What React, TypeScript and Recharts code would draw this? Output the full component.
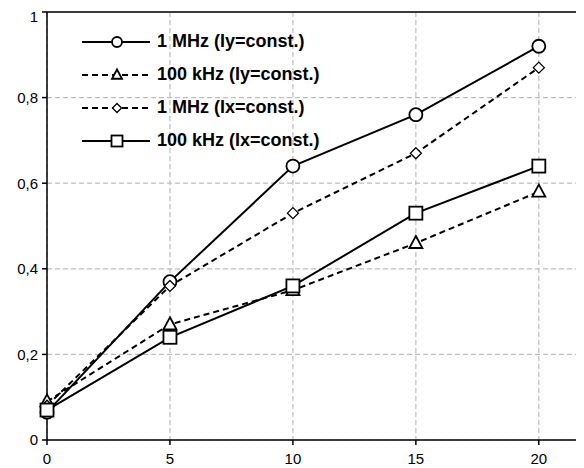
import React from 'react'
import {
  LineChart,
  Line,
  XAxis,
  YAxis,
  CartesianGrid,
  ReferenceLine,
} from 'recharts'

const xValues = [0, 5, 10, 15, 20]
const mhzIy = [0.065, 0.37, 0.64, 0.76, 0.92]
const khzIy = [0.09, 0.27, 0.35, 0.46, 0.58]
const mhzIx = [0.08, 0.36, 0.53, 0.67, 0.87]
const khzIx = [0.07, 0.24, 0.36, 0.53, 0.64]
const xTicks = [0, 5, 10, 15, 20]
const yTicks = [0, 0.2, 0.4, 0.6, 0.8, 1]

const names = [
  '1 MHz (Iy=const.)',
  '100 kHz (Iy=const.)',
  '1 MHz (Ix=const.)',
  '100 kHz (Ix=const.)',
]

const data = xValues.map((x, i) => ({
  x,
  a: mhzIy[i],
  b: khzIy[i],
  c: mhzIx[i],
  d: khzIx[i],
}))

const FONT = '"Liberation Sans", Arial, sans-serif'

type Kind = 'circle' | 'triangle' | 'diamond' | 'square'

function marker(kind: Kind, cx: number, cy: number, s: number) {
  const common = { fill: '#fff', stroke: '#000', strokeWidth: 1.8 }
  if (kind === 'circle') return <circle cx={cx} cy={cy} r={s} {...common} />
  if (kind === 'square')
    return <rect x={cx - s} y={cy - s} width={s * 2} height={s * 2} {...common} />
  if (kind === 'triangle')
    return (
      <polygon
        points={`${cx},${cy - s * 1.1} ${cx + s},${cy + s * 0.75} ${cx - s},${cy + s * 0.75}`}
        {...common}
      />
    )
  return (
    <polygon
      points={`${cx},${cy - s} ${cx + s},${cy} ${cx},${cy + s} ${cx - s},${cy}`}
      {...common}
      strokeWidth={1.3}
    />
  )
}

const makeDot = (kind: Kind, s: number) => (props: any) => {
  const { cx, cy, index } = props
  return <g key={`${kind}-${index}`}>{marker(kind, cx, cy, s)}</g>
}

const series: { key: string; kind: Kind; dash?: string; size: number }[] = [
  { key: 'a', kind: 'circle', size: 6.5 },
  { key: 'b', kind: 'triangle', dash: '6 4', size: 6.5 },
  { key: 'c', kind: 'diamond', dash: '6 4', size: 5.5 },
  { key: 'd', kind: 'square', size: 6.5 },
]

const legendMarkerSize: Record<Kind, number> = {
  circle: 5,
  triangle: 5,
  diamond: 4.5,
  square: 5.5,
}

const LegendBox = () => (
  <div
    style={{
      position: 'absolute',
      left: 74,
      top: 17,
      fontFamily: FONT,
      pointerEvents: 'none',
    }}
  >
    {series.map((s, i) => (
      <div
        key={s.key}
        style={{ display: 'flex', alignItems: 'center', height: 33 }}
      >
        <svg width={75} height={20}>
          <line
            x1={0}
            y1={10}
            x2={68}
            y2={10}
            stroke="#000"
            strokeWidth={2}
            strokeDasharray={s.dash ? '6 4' : undefined}
          />
          {marker(s.kind, 35, 10, legendMarkerSize[s.kind])}
        </svg>
        <span style={{ fontWeight: 'bold', fontSize: 18, color: '#000', whiteSpace: 'nowrap' }}>
          {names[i]}
        </span>
      </div>
    ))}
  </div>
)

const fmtY = (v: number) => (v === 0 || v === 1 ? String(v) : v.toFixed(1).replace('.', ','))

export default function App() {
  return (
    <div style={{ position: 'relative', width: 576, height: 460, overflow: 'hidden' }}>
      <LineChart
        width={600}
        height={460}
        data={data}
        margin={{ top: 4, right: 20, bottom: 0, left: 0 }}
      >
        <CartesianGrid stroke="#bdbdbd" strokeDasharray="5 3" strokeWidth={1.2} />
        <XAxis
          dataKey="x"
          type="number"
          domain={[0, 22]}
          ticks={xTicks}
          height={28}
          stroke="#000"
          strokeWidth={1.5}
          tickSize={5}
          tickMargin={8}
          tick={{ fill: '#000', fontSize: 15, fontFamily: FONT }}
        />
        <YAxis
          type="number"
          domain={[0, 1]}
          ticks={yTicks}
          width={39}
          stroke="#000"
          strokeWidth={1.5}
          tickSize={5}
          tickMargin={4}
          tickFormatter={fmtY}
          tick={{ fill: '#000', fontSize: 15, fontFamily: FONT }}
        />
        <ReferenceLine y={1} stroke="#3a3a3a" strokeWidth={2} />
        {series.map((s, i) => (
          <Line
            key={s.key}
            dataKey={s.key}
            name={names[i]}
            stroke="#000"
            strokeWidth={2}
            strokeDasharray={s.dash}
            dot={makeDot(s.kind, s.size)}
            activeDot={false}
            isAnimationActive={false}
          />
        ))}
      </LineChart>
      <LegendBox />
    </div>
  )
}
